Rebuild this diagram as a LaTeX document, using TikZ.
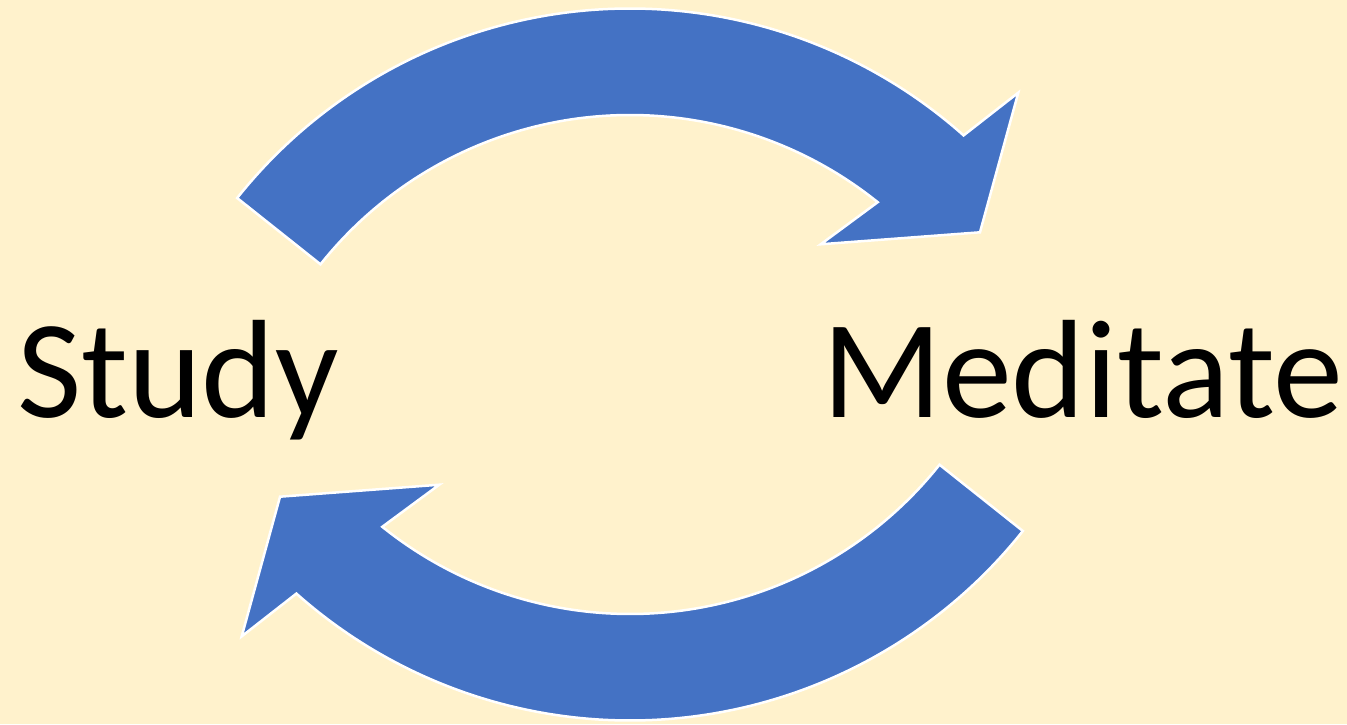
\documentclass[tikz,border=0pt]{standalone}
\usepackage{fontspec}
\setmainfont{Carlito}
\definecolor{cycleblue}{RGB}{68,114,196}
\definecolor{cyclecream}{RGB}{255,242,204}

\begin{document}
\begin{tikzpicture}[x=1pt,y=1pt,line join=miter,
 cyclearrow/.style={fill=cycleblue,draw=white,line width=2.5pt},
 cyclelabel/.style={anchor=base,inner sep=0pt,font=\fontsize{140}{168}\selectfont}]
\fill[cyclecream] (0,0) rectangle (1347,724);
\useasboundingbox (0,0) rectangle (1347,724);
% two curved arrows, the lower one turned half round
\foreach \cx/\cy/\rot in {630/213.5/0,630/505.5/180}{
 \draw[cyclearrow,shift={(\cx,\cy)},rotate=\rot]
  (141.5:502) arc[start angle=141.5,end angle=48.35,radius=502]
  -- (47.1:570.4) -- (38.48:447.1) -- (54.38:327.5) -- (51.22:395.5)
  arc[start angle=51.22,end angle=141.5,radius=395.5] -- cycle;
}
\node[cyclelabel] (study) at (178,307) {Study};
\node[cyclelabel] (meditate) at (1083,307) {Meditate};
\end{tikzpicture}
\end{document}
